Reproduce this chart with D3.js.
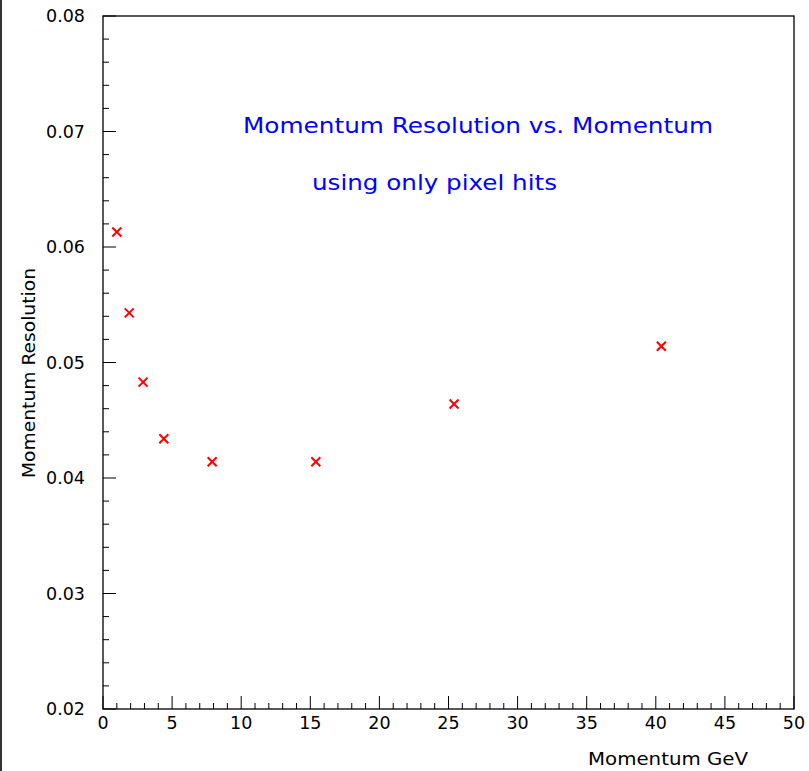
<!DOCTYPE html>
<html>
<head>
<meta charset="utf-8">
<script src="https://cdn.jsdelivr.net/npm/d3@7"></script>
<style>
  html, body { margin: 0; padding: 0; background: #fff; }
  svg { display: block; }
  text { font-family: "DejaVu Sans", sans-serif; fill: #000; }
</style>
</head>
<body>
<svg id="chart" width="809" height="771"></svg>
<script>
// Momentum (GeV) and fractional momentum resolution, pixel hits only
const momentum   = [1.0, 1.9, 2.9, 4.4, 7.9, 15.4, 25.4, 40.4];
const resolution = [0.0613, 0.0543, 0.0483, 0.0434, 0.0414, 0.0414, 0.0464, 0.0514];

const xTicks = [0, 5, 10, 15, 20, 25, 30, 35, 40, 45, 50];
const yTicks = [0.02, 0.03, 0.04, 0.05, 0.06, 0.07, 0.08];

const titleLines = ["Momentum Resolution vs. Momentum", "using only pixel hits"];
const xTitle = "Momentum GeV";
const yTitle = "Momentum Resolution";

const W = 809, H = 771;
const frame = { left: 103, right: 794, top: 16, bottom: 709 };

const svg = d3.select("#chart");

const x = d3.scaleLinear().domain([0, 50]).range([frame.left, frame.right]);
const y = d3.scaleLinear().domain([0.02, 0.08]).range([frame.bottom, frame.top]);

// page edge on the left
svg.append("line")
  .attr("x1", 1).attr("x2", 1).attr("y1", 0).attr("y2", H)
  .attr("stroke", "#333").attr("stroke-width", 2);

// frame
svg.append("rect")
  .attr("x", frame.left).attr("y", frame.top)
  .attr("width", frame.right - frame.left).attr("height", frame.bottom - frame.top)
  .attr("fill", "none").attr("stroke", "#000").attr("stroke-width", 1.3);

// x ticks pointing inward: major every 5, minor every 1
const xMinor = d3.range(0, 50.001, 1);
svg.append("g").selectAll("line").data(xMinor).join("line")
  .attr("x1", d => x(d)).attr("x2", d => x(d))
  .attr("y1", frame.bottom)
  .attr("y2", d => frame.bottom - (d % 5 === 0 ? 13 : 6))
  .attr("stroke", "#000").attr("stroke-width", 1);

// y ticks pointing inward: major every 0.01, minor every 0.002
const yMinor = d3.range(0, 31).map(i => 0.02 + i * 0.002);
svg.append("g").selectAll("line").data(yMinor).join("line")
  .attr("y1", d => y(d)).attr("y2", d => y(d))
  .attr("x1", frame.left)
  .attr("x2", (d, i) => frame.left + (i % 5 === 0 ? 13 : 6))
  .attr("stroke", "#000").attr("stroke-width", 1);

// tick labels
const fmtY = d3.format(".2f");
svg.append("g").selectAll("text").data(yTicks).join("text")
  .attr("x", 85).attr("y", d => y(d))
  .attr("text-anchor", "end").attr("dominant-baseline", "central")
  .attr("font-size", 17.5)
  .text(d => fmtY(d));

svg.append("g").selectAll("text").data(xTicks).join("text")
  .attr("x", d => x(d)).attr("y", 729)
  .attr("text-anchor", "middle")
  .attr("font-size", 17.5)
  .text(d => d);

// axis titles
svg.append("text")
  .attr("x", 748).attr("y", 765)
  .attr("text-anchor", "end")
  .attr("font-size", 17.5)
  .attr("textLength", 160).attr("lengthAdjust", "spacingAndGlyphs")
  .text(xTitle);

svg.append("text")
  .attr("transform", "translate(35,373) rotate(-90)")
  .attr("text-anchor", "middle")
  .attr("font-size", 17.5)
  .attr("textLength", 210).attr("lengthAdjust", "spacingAndGlyphs")
  .text(yTitle);

// blue title block inside the frame
svg.append("text")
  .attr("x", 243).attr("y", 133)
  .attr("font-size", 21.5)
  .style("fill", "#0000ff")
  .attr("textLength", 470).attr("lengthAdjust", "spacingAndGlyphs")
  .text(titleLines[0]);

svg.append("text")
  .attr("x", 312).attr("y", 190)
  .attr("font-size", 21.5)
  .style("fill", "#0000ff")
  .attr("textLength", 245).attr("lengthAdjust", "spacingAndGlyphs")
  .text(titleLines[1]);

// data markers: red crosses
const data = momentum.map((m, i) => ({ m, r: resolution[i] }));
const s = 4.5;
const marks = svg.append("g").attr("stroke", "#ff0000").attr("stroke-width", 2);
marks.selectAll("path").data(data).join("path")
  .attr("d", d => {
    const cx = x(d.m), cy = y(d.r);
    return `M${cx - s},${cy - s}L${cx + s},${cy + s}M${cx - s},${cy + s}L${cx + s},${cy - s}`;
  })
  .attr("fill", "none");
</script>
</body>
</html>
